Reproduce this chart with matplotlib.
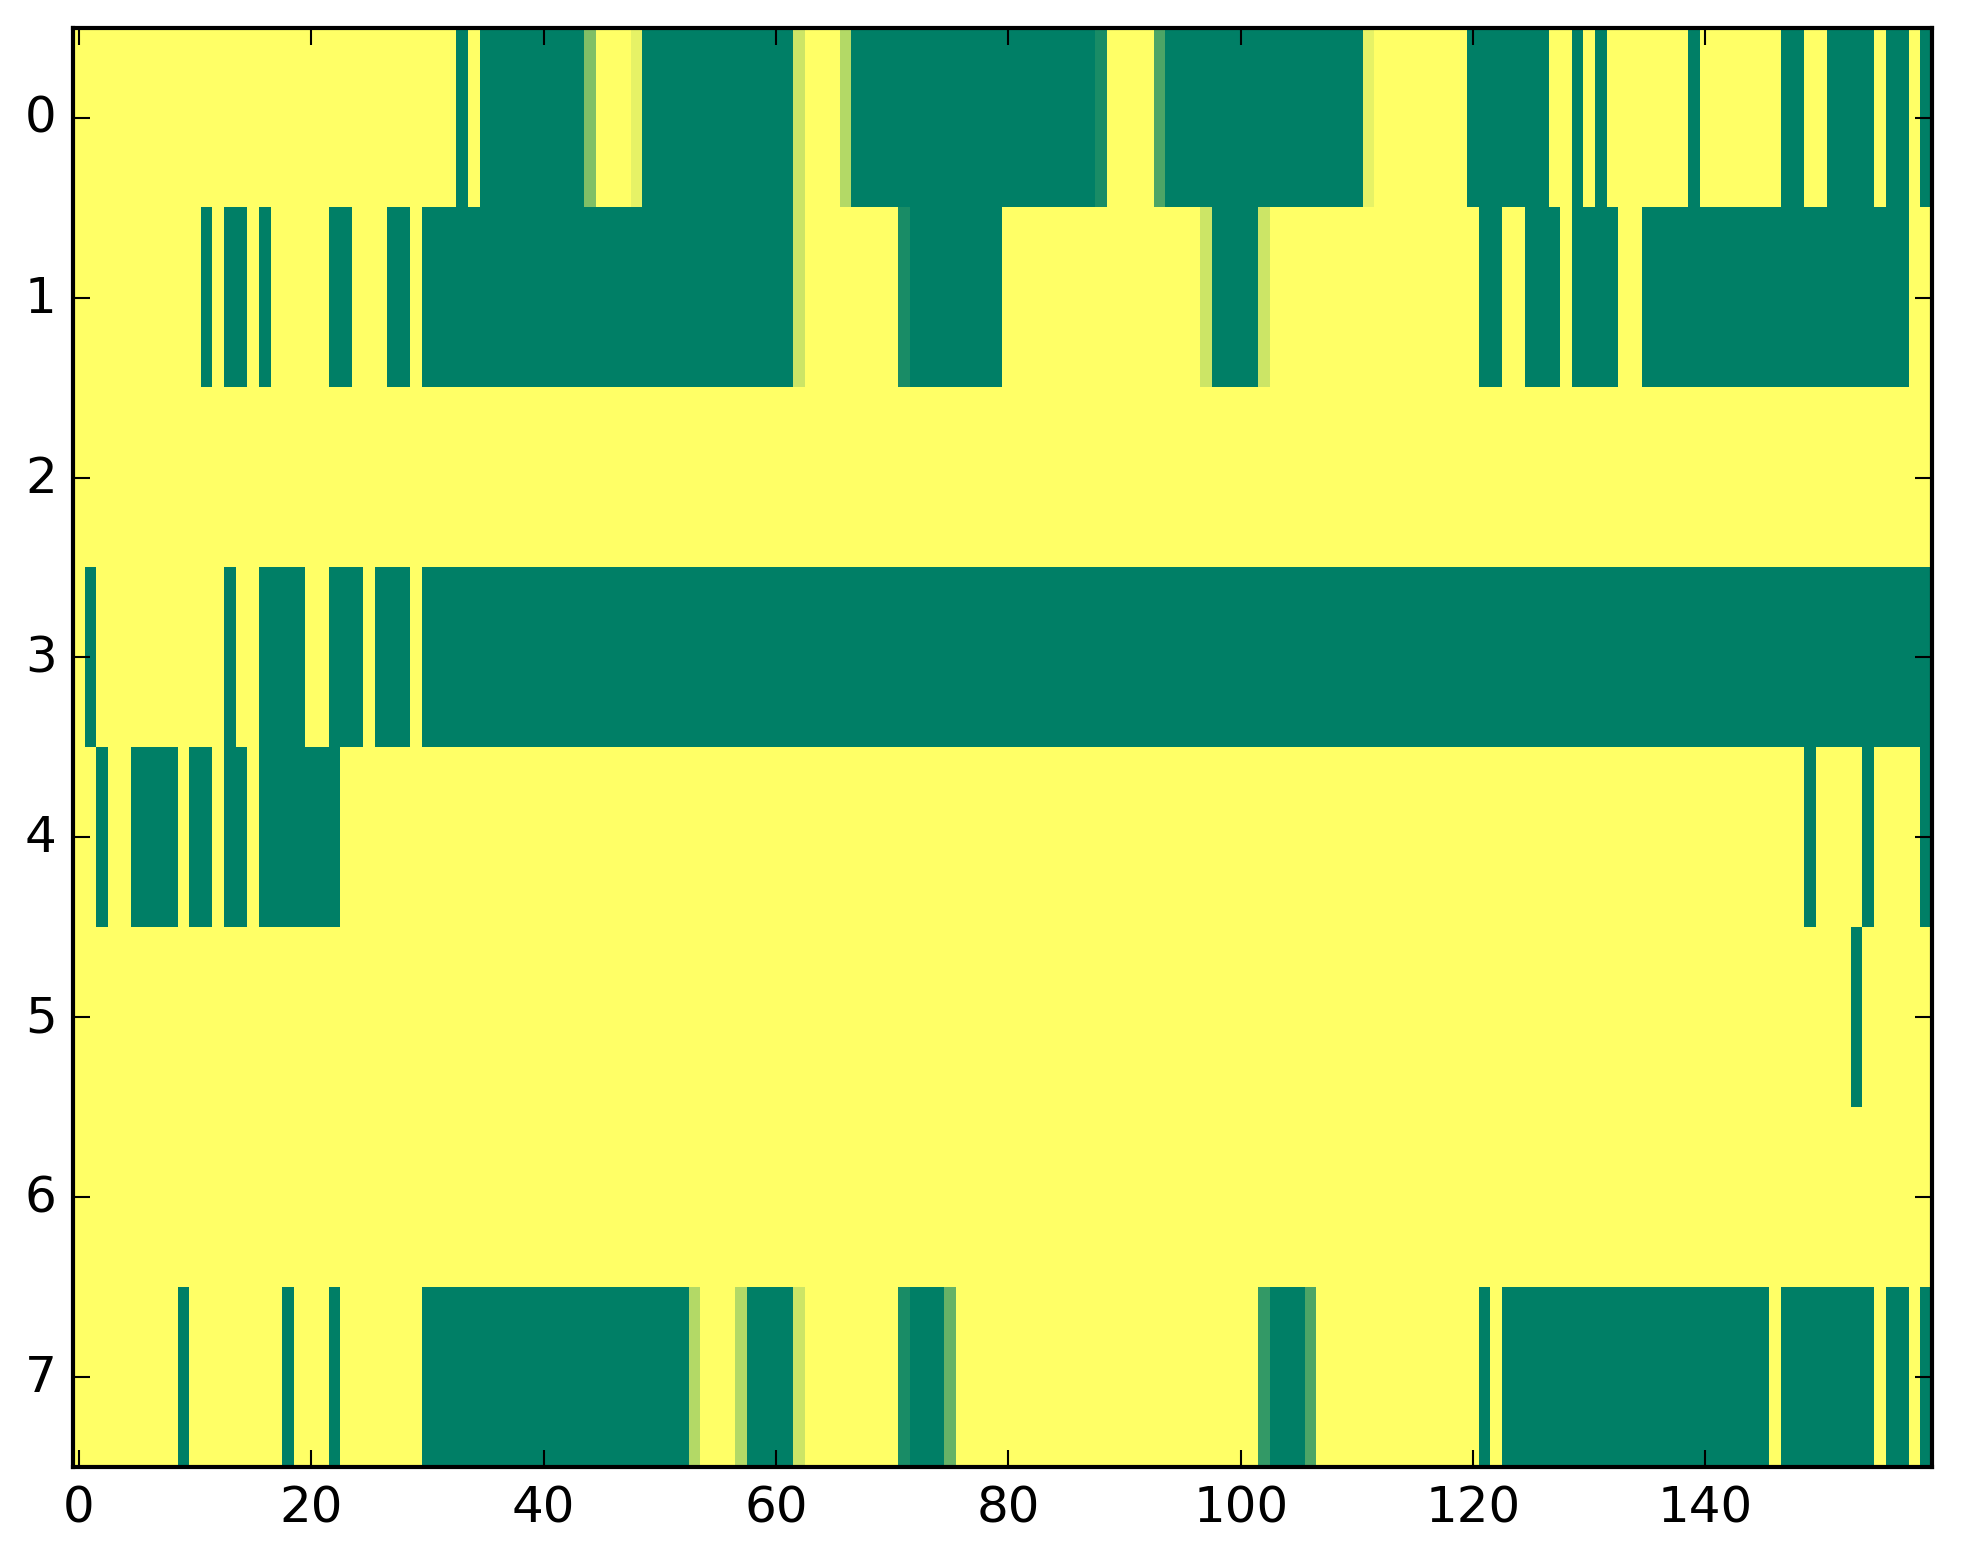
import numpy as np
import matplotlib
matplotlib.use("Agg")
import matplotlib.pyplot as plt

plt.style.use("classic")

# '.' = 1.0 (yellow), '#' = 0.0 (green), digit d = d/10 (intermediate)
row0 = (".........." ".........." ".........." "...#.#####" "####5...9#"
        "##########" "##8...7###" "##########" "########1." "...3######"
        "##########" "#9........" "#######..#" ".#.......#" ".......##." ".####.##.#")
row1 = (".........." ".#.##.#..." "..##...##." "##########" "##########"
        "##########" "##8......." ".1########" ".........." ".......8##"
        "##8......." ".........." ".##..###.#" "###..#####" "##########" "########..")
row2 = "." * 160
row3 = (".#........" "...#..####" "..###.###." "##########" "##########"
        "##########" "##########" "##########" "##########" "##########"
        "##########" "##########" "##########" "##########" "##########" "##########")
row4 = ("..#..####." "##.##.####" "###......." ".........." ".........."
        ".........." ".........." ".........." ".........." ".........."
        ".........." ".........." ".........." ".........." ".........#" "....#....#")
row5 = ("." * 150) + "...#......"
row6 = "." * 160
row7 = (".........#" "........#." "..#......." "##########" "##########"
        "###7...7##" "##8......." ".1###4...." ".........." ".........."
        "..2###3..." ".........." ".#.#######" "##########" "######.###" "#####.##.#")

rows = [row0, row1, row2, row3, row4, row5, row6, row7]


def decode(s):
    out = []
    for ch in s:
        if ch == ".":
            out.append(1.0)
        elif ch == "#":
            out.append(0.0)
        else:
            out.append(int(ch) / 10.0)
    return out


data = np.array([decode(r) for r in rows])

W, H = 1963, 1564
fig = plt.figure(figsize=(W / 300, H / 300), dpi=300)
ax = fig.add_axes([73.3 / W, 96 / H, (1932 - 73.3) / W, 1439.2 / H])
ax.imshow(data, cmap="summer", aspect="auto", interpolation="nearest",
          vmin=0, vmax=1)
ax.set_xlim(-0.5, data.shape[1] - 0.5)
ax.set_ylim(data.shape[0] - 0.5, -0.5)
fig.savefig("out.png", dpi=300)
